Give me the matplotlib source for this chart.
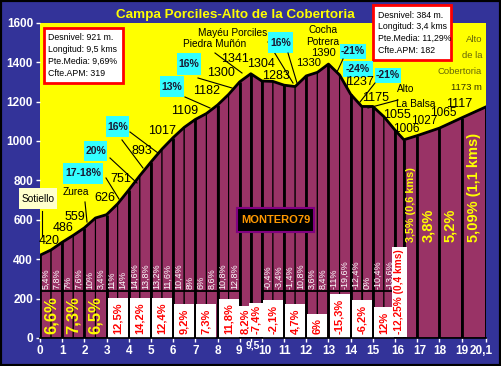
import matplotlib
matplotlib.use('Agg')
import matplotlib.pyplot as plt
import matplotlib.transforms as mtransforms
from matplotlib.lines import Line2D
from matplotlib.patches import Rectangle

plt.rcParams['font.family'] = ['Liberation Sans', 'DejaVu Sans']

# ---------------- data ----------------
dist = [0, 0.5, 1, 1.5, 2, 2.5, 3, 3.5, 4, 4.5, 5, 5.5, 6, 6.5, 7, 7.5, 8, 8.5, 9, 9.5,
        10, 10.5, 11, 11.5, 12, 12.5, 13, 13.5, 14, 14.5, 15, 15.5, 16, 16.4, 17, 18, 19, 20.1]
elev = [420, 447, 486, 521, 559, 609, 626, 681, 751, 824, 893, 959, 1017, 1069, 1109, 1139,
        1182, 1236, 1300, 1341, 1304, 1302, 1283, 1276, 1330, 1348, 1390, 1335, 1237, 1175,
        1175, 1123, 1055, 1006, 1027, 1065, 1117, 1173]

# half-km gradients (start km, label)
half_start = [0, 0.5, 1, 1.5, 2, 2.5, 3, 3.5, 4, 4.5, 5, 5.5, 6, 6.5, 7, 7.5, 8, 8.5,
              10, 10.5, 11, 11.5, 12, 12.5, 13, 13.5, 14, 14.5, 15, 15.5]
half_grad = ['5,4%', '7,8%', '7%', '7,6%', '10%', '3,4%', '11%', '14%', '14,6%', '13,8%',
             '13,2%', '11,6%', '10,4%', '8%', '6%', '8,6%', '10,8%', '12,8%',
             '-0,4%', '-3,4%', '-1,4%', '10,8%', '3,6%', '8,4%', '-11%', '-19,6%',
             '-12,4%', '0%', '-10,4%', '-13,6%']

# per-km gradients
seg_start = [0, 1, 2, 3, 4, 5, 6, 7, 8, 9, 9.5, 10, 11, 12, 13, 14, 15, 16, 16.4, 17, 18, 19]
seg_end = [1, 2, 3, 4, 5, 6, 7, 8, 9, 9.5, 10, 11, 12, 13, 14, 15, 16, 16.4, 17, 18, 19, 20.1]
seg_grad = ['6,6%', '7,3%', '6,5%', '12,5%', '14,2%', '12,4%', '9,2%', '7,3%', '11,8%',
            '8,2%', '-7,4%', '-2,1%', '4,7%', '6%', '-15,3%', '-6,2%', '12%',
            '-12,25% (0,4 kms)', '3,5% (0,6 kms)', '3,8%', '5,2%', '5,09% (1,1 kms)']
seg_style = ['big', 'big', 'big'] + ['box'] * 15 + ['ysmall', 'ymid', 'ymid', 'ymid']

yticks = [0, 200, 400, 600, 800, 1000, 1200, 1400, 1600]
xticks = [0, 1, 2, 3, 4, 5, 6, 7, 8, 9, 9.5, 10, 11, 12, 13, 14, 15, 16, 17, 18, 19, 20.1]
xlabels = ['0', '1', '2', '3', '4', '5', '6', '7', '8', '9', '9,5', '10', '11', '12', '13',
           '14', '15', '16', '17', '18', '19', '20,1']

title = 'Campa Porciles-Alto de la Cobertoria'
box1 = ['Desnivel: 921 m.', 'Longitud: 9,5 kms', 'Pte.Media: 9,69%', 'Cfte.APM: 319']
box2 = ['Desnivel: 384 m.', 'Longitud: 3,4 kms', 'Pte.Media: 11,29%', 'Cfte.APM: 182']

# ---------------- figure ----------------
W, H = 501, 366
BLUE = '#333399'
PURPLE = '#993366'
YEL = '#FFFF00'
CYAN = '#33FFFF'

fig = plt.figure(figsize=(W / 100, H / 100), dpi=100, facecolor=BLUE)
ax = fig.add_axes([40 / W, 1 - 338 / H, 446 / W, (338 - 22.7) / H])
ax.set_facecolor(YEL)
ax.set_xlim(0, 20.1)
ax.set_ylim(0, 1600)

# column polygons
for i in range(len(dist) - 1):
    x0, x1 = dist[i], dist[i + 1]
    ax.fill([x0, x0, x1, x1], [0, elev[i], elev[i + 1], 0], facecolor=PURPLE,
            edgecolor='black', lw=0.8, zorder=2)
for d, e in zip(dist, elev):
    if d == int(d) or d in (9.5, 16.4, 20.1):
        ax.vlines(d, 0, e, color='black', lw=2, zorder=3)
ax.plot(dist, elev, color='black', lw=2, zorder=4, solid_joinstyle='round')

# separator line
ax.hlines(238, 0, 9, color='black', lw=1.3, zorder=4)
ax.hlines(238, 10, 16, color='black', lw=1.3, zorder=4)

# half-km labels
for s, g in zip(half_start, half_grad):
    ax.text(s + 0.25, 248, g, rotation=90, ha='center', va='bottom', color='white',
            fontsize=6.5, zorder=5)

# per-km labels
for s, e, g, st in zip(seg_start, seg_end, seg_grad, seg_style):
    xc = (s + e) / 2
    if st == 'big':
        ax.text(xc, 22, g, rotation=90, ha='center', va='bottom', color=YEL,
                fontsize=12, fontweight='bold', zorder=5)
    elif st == 'box':
        w = e - s
        fs = 7.3 if len(g) > 8 else 8
        pad = 0.25 if w < 0.6 else 0.45
        ax.text(xc, 18, g, rotation=90, ha='center', va='bottom', color='red',
                fontsize=fs, fontweight='bold', zorder=5, clip_on=True,
                bbox=dict(boxstyle='square,pad=%.2f' % pad, facecolor='white',
                          edgecolor='none'))
    elif st == 'ysmall':
        ax.text(xc, 485, g, rotation=90, ha='center', va='bottom', color=YEL,
                fontsize=7.8, fontweight='bold', zorder=5)
    else:
        ax.text(xc, 485, g, rotation=90, ha='center', va='bottom', color=YEL,
                fontsize=10.5, fontweight='bold', zorder=5)

# axes styling
for sp in ('left', 'top', 'right'):
    ax.spines[sp].set_visible(False)
ax.spines['bottom'].set_color('black')
ax.spines['bottom'].set_linewidth(1.2)
ax.spines['bottom'].set_zorder(6)
ax.set_yticks(yticks)
ax.set_yticklabels([str(v) for v in yticks])
ax.set_xticks(xticks)
ax.set_xticklabels(xlabels)
ax.tick_params(colors='white', labelcolor='white', length=3, width=1, pad=2,
               labelsize=8.5)
shifts = {'9': (-1, 0), '9,5': (2, 4), '10': (3, 0), '16': (3, 0), '17': (3, 0),
          '20,1': (-5, 0)}
for lab in ax.get_xticklabels() + ax.get_yticklabels():
    lab.set_fontweight('bold')
for lab in ax.get_xticklabels():
    t = lab.get_text()
    if t == '9,5':
        lab.set_fontsize(7.5)
    if t in shifts:
        dx, dy = shifts[t]
        lab.set_transform(lab.get_transform() +
                          mtransforms.ScaledTranslation(dx / 100, dy / 100,
                                                        fig.dpi_scale_trans))


# ---------------- annotations (figure pixels, y from top) ----------------
def T(px, py, s, **kw):
    kw.setdefault('ha', 'center')
    kw.setdefault('va', 'center')
    return fig.text(px / W, 1 - py / H, s, **kw)


def L(x1, y1, x2, y2, lw=0.8):
    fig.add_artist(Line2D([x1 / W, x2 / W], [1 - y1 / H, 1 - y2 / H],
                          transform=fig.transFigure, color='black', lw=lw, zorder=3))


def R(x1, y1, x2, y2, fc, ec='none', lw=0):
    fig.add_artist(Rectangle((x1 / W, 1 - y2 / H), (x2 - x1) / W, (y2 - y1) / H,
                             transform=fig.transFigure, facecolor=fc, edgecolor=ec,
                             lw=lw, zorder=3))


T(235, 15, title, color=YEL, fontsize=9.7, fontweight='bold')

# info boxes
R(44, 28, 123, 83, 'white', 'red', 2)
for i, t in enumerate(box1):
    T(48, 37 + i * 12.3, t, ha='left', fontsize=6.3, zorder=4)
R(373, 5, 451, 60, 'white', 'red', 2)
for i, t in enumerate(box2):
    T(378, 15 + i * 11.7, t, ha='left', fontsize=6.3, zorder=4)

# elevation labels
elev_lbls = [('420', 49, 241), ('486', 63, 228), ('559', 75, 217), ('626', 105, 198),
             ('751', 121, 179), ('893', 142, 151), ('1017', 162, 131), ('1109', 185, 111),
             ('1182', 207, 91), ('1300', 221, 73), ('1341', 235, 59), ('1304', 261, 64),
             ('1283', 276, 76), ('1330', 309, 63), ('1390', 323, 53), ('1237', 360, 82),
             ('1175', 376, 98), ('1055', 397, 115), ('1006', 406, 129), ('1027', 424, 121),
             ('1065', 443, 113), ('1117', 459, 104)]
for t, x, y in elev_lbls:
    if t in ('1330', '1390'):
        fs = 8
    elif t in ('1006', '1027', '1065'):
        fs = 8.5
    else:
        fs = 9
    T(x, y, t, fontsize=fs, zorder=5)

# place names
R(19, 188, 57, 209, '#FFFFCC')
T(38, 199, 'Sotiello', fontsize=7.3, zorder=4)
L(42, 211, 42, 236)
T(76, 192, 'Zurea', fontsize=7.3)
L(85, 202, 87, 222)
T(215, 44, 'Piedra Muñón', fontsize=7.3)
L(215, 53, 242, 73)
T(233, 33, 'Mayéu Porciles', fontsize=7.3)
L(268, 42, 293, 83)
T(323, 30, 'Cocha', fontsize=7.3)
T(323, 42, 'Potrera', fontsize=7.3)
T(406, 89, 'Alto', fontsize=7.3)
T(416, 104, 'La Balsa', fontsize=7.3)
L(368, 108, 398, 100)

OLIVE = '#66660a'
T(482, 39, 'Alto', ha='right', fontsize=6.8, color=OLIVE)
T(482, 56, 'de la', ha='right', fontsize=6.8, color=OLIVE)
T(482, 72, 'Cobertoria', ha='right', fontsize=6.8, color=OLIVE)
T(482, 88, '1173 m', ha='right', fontsize=6.8, color='#333300')

# cyan gradient boxes
cyan = [('17-18%', 63, 163, 103, 184), ('20%', 84, 141, 107, 161), ('16%', 106, 116, 129, 137),
        ('13%', 160, 76, 184, 97), ('16%', 177, 53, 201, 75), ('16%', 268, 32, 293, 53),
        ('-21%', 340, 44, 366, 59), ('-24%', 343, 61, 373, 77), ('-21%', 375, 68, 401, 83)]
for t, x1, y1, x2, y2 in cyan:
    R(x1, y1, x2, y2, CYAN)
    T((x1 + x2) / 2, (y1 + y2) / 2, t, fontsize=7.5, fontweight='bold', color='#1a1a33',
      zorder=4)

# leader lines
L(106, 178, 119, 199)
L(110, 158, 137, 183)
L(122, 140, 143, 168)
L(130, 132, 158, 153)
L(185, 97, 210, 108)
L(198, 78, 232, 88)
L(288, 53, 297, 83)
L(343, 59, 337, 72)
L(348, 77, 347, 88)
L(375, 83, 360, 102)

# MONTERO79 label
R(237, 208, 314, 232, 'black', '#800080', 1.5)
T(275.5, 220, 'MONTERO79', color='#FF9900', fontsize=8, fontweight='bold', zorder=4)

# outer border
fig.add_artist(Rectangle((0, 0), 1, 1, transform=fig.transFigure, fill=False,
                         edgecolor='black', lw=3, zorder=10))

fig.savefig('out.png', dpi=100, facecolor=BLUE)
